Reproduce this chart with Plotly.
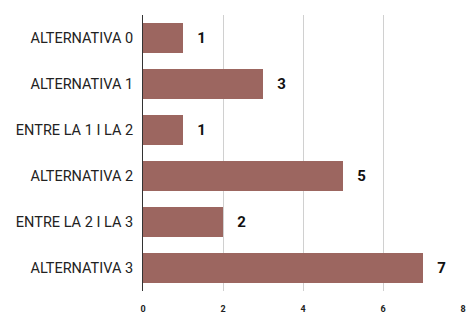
import plotly.graph_objects as go

categories = ["ALTERNATIVA 0", "ALTERNATIVA 1", "ENTRE LA 1 I LA 2", "ALTERNATIVA 2", "ENTRE LA 2 I LA 3", "ALTERNATIVA 3"]
values = [1, 3, 1, 5, 2, 7]
tick_vals = [0, 2, 4, 6, 8]

fig = go.Figure(go.Bar(
    y=categories, x=values, orientation="h",
    marker=dict(color="#9c6660", line=dict(width=0)),
    width=0.65,
    text=[str(v) for v in values], textposition="outside",
    texttemplate="   %{x}",
    textfont=dict(family="Roboto", size=15, color="#111111", weight="bold"),
    cliponaxis=False,
))
fig.update_layout(
    width=468, height=316,
    margin=dict(l=143, r=5, t=15, b=25),
    paper_bgcolor="white", plot_bgcolor="white",
    showlegend=False,
    font=dict(family="Roboto", color="#222222"),
)
fig.update_xaxes(range=[0, 8], tickvals=tick_vals, showgrid=True, gridcolor="#d0d0d0", gridwidth=1,
                 zeroline=False, showline=False, ticks="", automargin=False,
                 ticklabelstandoff=11,
                 tickfont=dict(family="Roboto", size=9, color="#222222", weight="bold"))
fig.update_yaxes(autorange="reversed", showline=True, linecolor="#333333", linewidth=1,
                 ticks="", ticklabelstandoff=6, automargin=False,
                 tickfont=dict(family="Roboto", size=14.5, color="#222222"))
fig.write_html("out.html", config={"displayModeBar": False},
               post_script="document.body.style.margin='0';")
